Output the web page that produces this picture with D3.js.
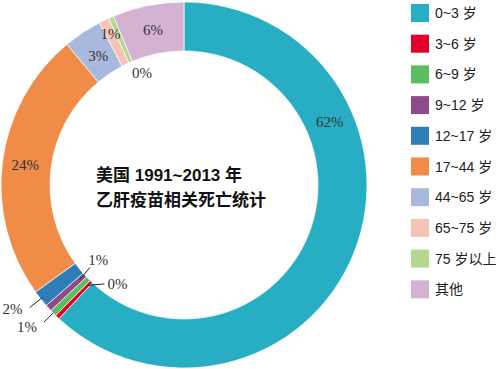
<!DOCTYPE html>
<html lang="zh">
<head>
<meta charset="utf-8">
<title>乙肝疫苗相关死亡统计</title>
<script src="https://cdn.jsdelivr.net/npm/d3@7"></script>
<style>
  body { margin: 0; background: #fff; }
  svg { display: block; }
</style>
</head>
<body>
<svg id="chart"></svg>
<script>
// age groups, share of deaths (%)
var groups = ["0~3 岁", "3~6 岁", "6~9 岁", "9~12 岁", "12~17 岁", "17~44 岁", "44~65 岁", "65~75 岁", "75 岁以上", "其他"];
var shares = [62.0, 0.4, 0.6, 0.6, 1.5, 23.9, 3.4, 0.9, 0.45, 6.3];
var colours = ["#27aec3", "#e2002b", "#5cbd60", "#8f4a8d", "#2e7db6", "#f08c48", "#a8b9dd", "#f7c3b5", "#b6d78e", "#d4b3d2"];
var titleLines = ["美国 1991~2013 年", "乙肝疫苗相关死亡统计"];

var width = 500, height = 369;
var cx = 184, cy = 185;
var outerR = 183, innerR = 134;

// label placement per slice: angle shift (deg), radius, or a leader line
var labelLayout = [
  { shift: -45, r: 159 },
  { leader: [139, 127], shift: [0, -5], tr: 127, anchor: "start", dx: 3 },
  { leader: [183, 196], shift: [0, 0], tr: 203, anchor: "end", dx: -2, dy: 0 },
  { leader: [141, 125], shift: [0, 1], tr: 114, anchor: "middle", dy: 0 },
  { leader: [181, 197], shift: [0, 0], tr: 200, anchor: "end", dx: -5, dy: -1 }
  ,
  { shift: 0, r: 160 },
  { shift: 0, r: 155 },
  { shift: 0, r: 168 },
  { shift: 3, r: 120 },
  { shift: 0, r: 158 }
];

var svg = d3.select("#chart")
  .attr("width", width)
  .attr("height", height);

var rad = Math.PI / 180;
function polar(a, r) {
  return [cx + r * Math.sin(a), cy - r * Math.cos(a)];
}

var data = groups.map(function(g, i) { return { group: g, value: shares[i], i: i }; });

var pie = d3.pie().sort(null).value(function(d) { return d.value; });
var arc = d3.arc().innerRadius(innerR).outerRadius(outerR);
var arcs = pie(data);

var g = svg.append("g").attr("transform", "translate(" + cx + "," + cy + ")");

g.selectAll("path")
  .data(arcs)
  .enter()
  .append("path")
  .attr("d", arc)
  .attr("fill", function(d) { return colours[d.data.i]; })
  .attr("stroke", "#fff")
  .attr("stroke-width", 0.7);

// slice labels
var labelG = svg.append("g")
  .style("font-family", "'Liberation Serif', 'DejaVu Serif', serif")
  .style("font-size", "15px")
  .attr("fill", "#333");

arcs.forEach(function(d, i) {
  var mid = (d.startAngle + d.endAngle) / 2;
  var lay = labelLayout[i];
  var txt = Math.round(d.data.value) + "%";
  if (lay.leader) {
    var p1 = polar(mid + lay.shift[0] * rad, lay.leader[0]);
    var p2 = polar(mid + lay.shift[1] * rad, lay.leader[1]);
    labelG.append("line")
      .attr("x1", p1[0]).attr("y1", p1[1])
      .attr("x2", p2[0]).attr("y2", p2[1])
      .attr("stroke", "#222")
      .attr("stroke-width", 1);
    var pt = polar(mid + lay.shift[1] * rad, lay.tr);
    labelG.append("text")
      .attr("x", pt[0] + (lay.dx || 0))
      .attr("y", pt[1] + (lay.dy || 0))
      .attr("dy", "0.35em")
      .attr("text-anchor", lay.anchor)
      .text(txt);
  } else {
    var p = polar(mid + lay.shift * rad, lay.r);
    labelG.append("text")
      .attr("x", p[0])
      .attr("y", p[1])
      .attr("dy", "0.35em")
      .attr("text-anchor", "middle")
      .text(txt);
  }
});

// centre title
svg.append("g")
  .selectAll("text")
  .data(titleLines)
  .enter()
  .append("text")
  .attr("x", 96)
  .attr("y", function(d, i) { return 181 + i * 25; })
  .style("font-family", "'Liberation Sans', 'Noto Sans CJK SC', sans-serif")
  .style("font-weight", "bold")
  .style("font-size", "17px")
  .attr("fill", "#111")
  .text(function(d) { return d; });

// legend
var legendY = d3.scaleBand()
  .domain(groups)
  .range([4, 4 + 30.7 * groups.length]);

var legend = svg.append("g").selectAll("g")
  .data(groups)
  .enter()
  .append("g")
  .attr("transform", function(d) { return "translate(411," + legendY(d) + ")"; });

legend.append("rect")
  .attr("width", 18)
  .attr("height", 18)
  .attr("fill", function(d, i) { return colours[i]; });

legend.append("text")
  .attr("x", 24)
  .attr("y", 9)
  .attr("dy", "0.36em")
  .style("font-family", "'Liberation Sans', 'Noto Sans CJK SC', sans-serif")
  .style("font-size", "14px")
  .attr("fill", "#222")
  .text(function(d) { return d; });
</script>
</body>
</html>
